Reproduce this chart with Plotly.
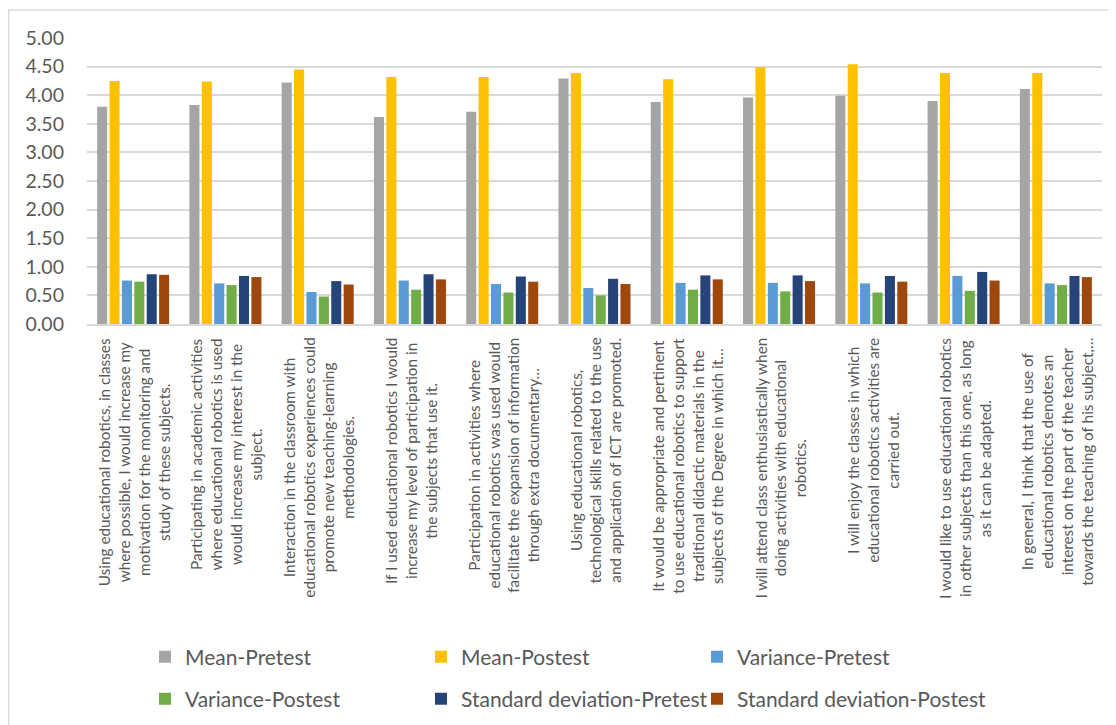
import plotly.graph_objects as go

# ---------------- data ----------------
label_lines = [
    ["Using educational robotics, in classes", "where possible, I would increase my",
     "motivation for the monitoring and", "study of these subjects."],
    ["Participating in academic activities", "where educational robotics is used",
     "would increase my interest in the", "subject."],
    ["Interaction in the classroom with", "educational robotics experiences could",
     "promote new teaching-learning", "methodologies."],
    ["If I used educational robotics I would", "increase my level of participation in",
     "the subjects that use it."],
    ["Participation in activities where", "educational robotics was used would",
     "facilitate the expansion of information", "through extra documentary…"],
    ["Using educational robotics,", "technological skills related to the use",
     "and application of ICT are promoted."],
    ["It would be appropriate and pertinent", "to use educational robotics to support",
     "traditional didactic materials in the", "subjects of the Degree in which it…"],
    ["I will attend class enthusiastically when", "doing activities with educational",
     "robotics."],
    ["I will enjoy the classes in which", "educational robotics activities are",
     "carried out."],
    ["I would like to use educational robotics", "in other subjects than this one, as long",
     "as it can be adapted."],
    ["In general, I think that the use of", "educational robotics denotes an",
     "interest on the part of the teacher", "towards the teaching of his subject,…"],
]
categories = ["<br>".join(l) for l in label_lines]

mean_pre = [3.80, 3.83, 4.22, 3.62, 3.71, 4.29, 3.88, 3.96, 3.99, 3.90, 4.11]
mean_post = [4.25, 4.24, 4.45, 4.32, 4.32, 4.39, 4.28, 4.49, 4.54, 4.39, 4.39]
var_pre = [0.76, 0.71, 0.56, 0.76, 0.70, 0.63, 0.72, 0.72, 0.71, 0.84, 0.71]
var_post = [0.74, 0.68, 0.48, 0.60, 0.55, 0.50, 0.60, 0.57, 0.55, 0.58, 0.68]
sd_pre = [0.87, 0.84, 0.75, 0.87, 0.83, 0.79, 0.85, 0.85, 0.84, 0.91, 0.84]
sd_post = [0.86, 0.82, 0.69, 0.78, 0.74, 0.70, 0.78, 0.75, 0.74, 0.76, 0.82]

series_names = ["Mean-Pretest", "Mean-Postest", "Variance-Pretest",
                "Variance-Postest", "Standard deviation-Pretest", "Standard deviation-Postest"]
series_values = [mean_pre, mean_post, var_pre, var_post, sd_pre, sd_post]
series_colors = ["#A5A5A5", "#FFC000", "#5B9BD5", "#70AD47", "#264478", "#9E480E"]
y_ticks = [0, 0.5, 1, 1.5, 2, 2.5, 3, 3.5, 4, 4.5, 5]

# ---------------- figure ----------------
# the page body has an 8px margin: the figure is 8px smaller and the
# target page positions below are converted with that offset
OFF = 8
W, H = 1116 - OFF, 725 - OFF
ML, MT = 87 - OFF, 38 - OFF
PW = 1102 - 87
PH = 324 - 38
MR = W - ML - PW
MB = H - MT - PH
FONT = "Lato"
TXT = "#595959"

def px_x(p):  # page pixel -> paper x
    return (p - OFF - ML) / PW

def px_y(p):  # page pixel -> paper y
    return (MT + PH - (p - OFF)) / PH

legend_ids = ["legend", "legend2", "legend3", "legend4", "legend5", "legend6"]
legend_cols = [145, 421, 697]
legend_rows = [657, 699]

fig = go.Figure()
for i, (name, vals, col) in enumerate(zip(series_names, series_values, series_colors)):
    fig.add_trace(go.Bar(
        x=categories, y=vals, name=name,
        marker=dict(color=col, line=dict(width=0)),
        legend=legend_ids[i],
    ))

annotations = []
for c in categories:
    annotations.append(dict(
        x=c, xref="x", y=0, yref="paper", yanchor="top", xanchor="center",
        xshift=1, yshift=-12, text=c, textangle=-90, align="center", showarrow=False,
        font=dict(family=FONT, size=15.3, color=TXT),
    ))

legends = {}
for i, lid in enumerate(legend_ids):
    legends[lid] = dict(
        orientation="h", xref="paper", yref="paper", xanchor="left", yanchor="middle",
        x=px_x(legend_cols[i % 3]), y=px_y(legend_rows[i // 3]),
        bgcolor="rgba(0,0,0,0)", borderwidth=0,
        font=dict(family=FONT, size=21, color=TXT), itemclick=False,
    )

fig.update_layout(
    width=W, height=H,
    margin=dict(l=ML, r=MR, t=MT, b=MB, autoexpand=False),
    paper_bgcolor="white", plot_bgcolor="white",
    barmode="group", bargap=0.194, bargroupgap=0.19,
    font=dict(family=FONT, color=TXT),
    showlegend=True,
    annotations=annotations,
    xaxis=dict(showticklabels=False, showgrid=False, showline=True,
               linecolor="#D9D9D9", linewidth=2, ticks=""),
    yaxis=dict(range=[0, 5], tickvals=y_ticks, tickformat=".2f",
               showgrid=True, gridcolor="#D9D9D9", gridwidth=2,
               zeroline=False, showline=False, ticks="",
               ticklabelstandoff=22,
               tickfont=dict(family=FONT, size=19.5, color=TXT)),
    shapes=[dict(type="rect", xref="paper", yref="paper",
                 x0=px_x(8.5), x1=px_x(1140), y0=px_y(760), y1=px_y(10),
                 line=dict(color="#D9D9D9", width=1.5), fillcolor="rgba(0,0,0,0)",
                 layer="below")],
    **legends,
)

fig.write_html("out.html")
